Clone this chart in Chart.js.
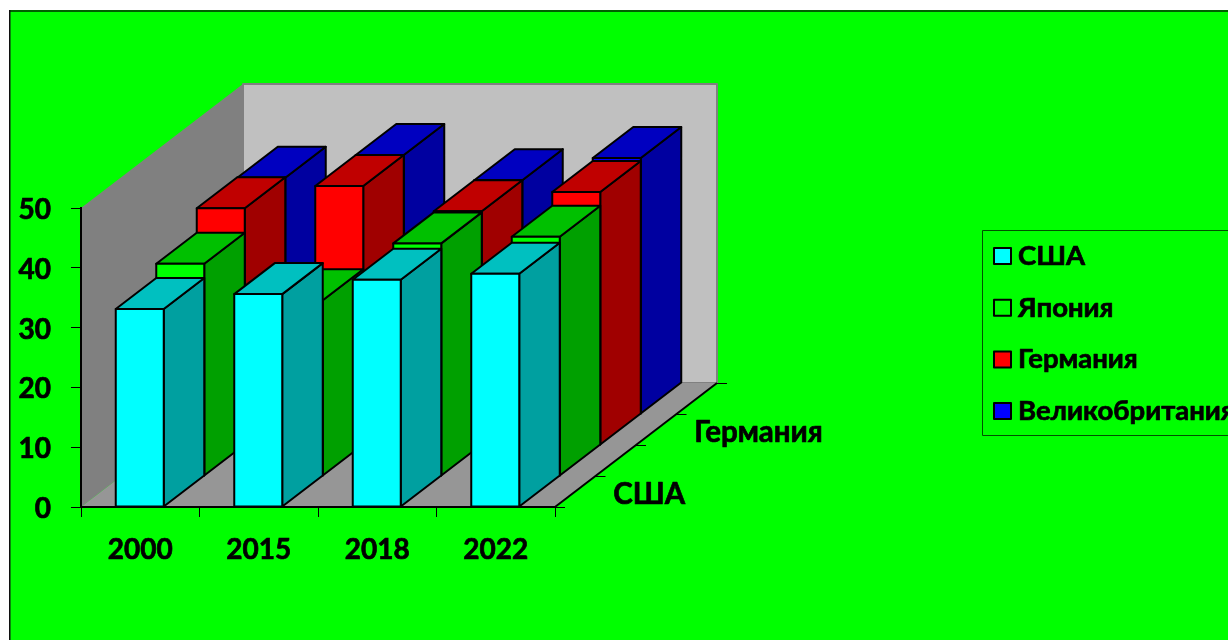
<!DOCTYPE html>
<html>
<head>
<meta charset="utf-8">
<style>
  html, body { margin: 0; padding: 0; background: #fff; overflow: hidden; }
  #wrap { width: 1228px; height: 640px; }
</style>
<script src="https://cdn.jsdelivr.net/npm/chart.js@4"></script>
</head>
<body>
<div id="wrap"><canvas id="chart"></canvas></div>
<script>
// Values
const years = ['2000', '2015', '2018', '2022'];
const seriesNames = ['США', 'Япония', 'Германия', 'Великобритания'];
const usa = [33.1, 35.6, 38, 39];
const japan = [35.5, 29.4, 38.9, 40];
const germany = [39.6, 43.3, 39.1, 42.3];
const britain = [39.5, 43.3, 39.1, 42.8];
const yTicks = [0, 10, 20, 30, 40, 50];

// Colours: front, top and side face of each series
const frontColors = ['#00ffff', '#00ff00', '#ff0000', '#0000ff'];
const topColors = ['#00c0c0', '#00c000', '#c00000', '#0000c0'];
const sideColors = ['#00a0a0', '#00a000', '#a00000', '#0000a0'];

const FONT = 'Lato, "Open Sans", sans-serif';
const fontSize = 28;
const depthFontSize = 29.5;
const legendFontSize = 27.5;
const textStroke = 0.7;

// Depth of one series slot in the fake 3D projection
const DX = 40.5;
const DY = -31;
const BAR_SHIFT = -0.5;

function poly(ctx, pts, fill, stroke, lw) {
  ctx.beginPath();
  pts.forEach((p, i) => i ? ctx.lineTo(p[0], p[1]) : ctx.moveTo(p[0], p[1]));
  ctx.closePath();
  if (fill) { ctx.fillStyle = fill; ctx.fill(); }
  if (stroke) { ctx.strokeStyle = stroke; ctx.lineWidth = lw; ctx.lineJoin = 'round'; ctx.stroke(); }
}

function boldText(ctx, text, x, y) {
  ctx.fillStyle = '#000';
  ctx.strokeStyle = '#000';
  ctx.lineWidth = textStroke;
  ctx.fillText(text, x, y);
  ctx.strokeText(text, x, y);
}

const scene = {
  id: 'scene',
  // value labels sit a little lower than Chart.js centres them
  afterLayout(chart) {
    chart.scales.y.getLabelItems().forEach(item => { item.options.translation[1] += 2; });
  },
  // green panel and the three walls go under the axes
  beforeDraw(chart) {
    const { ctx, chartArea: a } = chart;
    const depthX = DX * seriesNames.length;
    const depthY = DY * seriesNames.length;
    ctx.save();
    ctx.fillStyle = '#00ff00';
    ctx.fillRect(10, 11, chart.width - 10, chart.height - 11);
    ctx.fillStyle = '#006000';
    ctx.fillRect(9, 10, chart.width - 9, 2);
    ctx.fillStyle = '#101010';
    ctx.fillRect(9, 10, 1.5, chart.height - 10);

    // back wall
    poly(ctx, [[a.left + depthX, a.top + depthY], [a.right + depthX, a.top + depthY],
      [a.right + depthX, a.bottom + depthY], [a.left + depthX, a.bottom + depthY]], '#c0c0c0', '#808080', 2);
    // left wall
    poly(ctx, [[a.left, a.top], [a.left + depthX, a.top + depthY],
      [a.left + depthX, a.bottom + depthY], [a.left, a.bottom]], '#808080');
    // floor
    poly(ctx, [[a.left, a.bottom], [a.right, a.bottom],
      [a.right + depthX, a.bottom + depthY], [a.left + depthX, a.bottom + depthY]], '#969696');

    // depth axis line with its ticks
    ctx.strokeStyle = '#000';
    ctx.lineWidth = 2;
    ctx.beginPath();
    ctx.moveTo(a.right, a.bottom);
    ctx.lineTo(a.right + depthX, a.bottom + depthY);
    ctx.stroke();
    ctx.lineWidth = 1;
    ctx.beginPath();
    for (let i = 0; i <= seriesNames.length; i++) {
      const tx = a.right + DX * i;
      const ty = Math.round(a.bottom + DY * i) + 0.5;
      ctx.moveTo(tx, ty);
      ctx.lineTo(tx + 10, ty);
    }
    ctx.stroke();

    // depth axis labels, every second one like the original
    ctx.font = 'bold ' + depthFontSize + 'px ' + FONT;
    ctx.textAlign = 'left';
    ctx.textBaseline = 'middle';
    for (let i = 0; i < seriesNames.length; i += 2) {
      boldText(ctx, seriesNames[i], a.right + DX * (i + 0.5) + 38, a.bottom + DY * (i + 0.5) + 3);
    }
    ctx.restore();
  },
  // replace the flat bar with a box pushed back by the series depth
  beforeDatasetDraw(chart, args) {
    const ctx = chart.ctx;
    const i = args.index;
    args.meta.data.forEach(bar => {
      const l = bar.x - bar.width / 2 + DX * i + BAR_SHIFT;
      const r = bar.x + bar.width / 2 + DX * i + BAR_SHIFT;
      const t = bar.y + DY * i;
      const b = bar.base + DY * i;
      poly(ctx, [[r, t], [r + DX, t + DY], [r + DX, b + DY], [r, b]], sideColors[i], '#000', 2);
      poly(ctx, [[l, t], [l + DX, t + DY], [r + DX, t + DY], [r, t]], topColors[i], '#000', 2);
      poly(ctx, [[l, t], [r, t], [r, b], [l, b]], frontColors[i], '#000', 2);
    });
    return false;
  },
  // legend box at the right, runs off the edge like the original
  afterDraw(chart) {
    const ctx = chart.ctx;
    ctx.save();
    ctx.strokeStyle = '#005000';
    ctx.lineWidth = 1;
    ctx.beginPath();
    ctx.moveTo(chart.width, 230.5);
    ctx.lineTo(982.5, 230.5);
    ctx.lineTo(982.5, 435.5);
    ctx.lineTo(chart.width, 435.5);
    ctx.stroke();
    ctx.font = 'bold ' + legendFontSize + 'px ' + FONT;
    ctx.textAlign = 'left';
    ctx.textBaseline = 'middle';
    seriesNames.forEach((name, i) => {
      const y = 256 + i * 51.7;
      ctx.fillStyle = frontColors[i];
      ctx.strokeStyle = '#000';
      ctx.lineWidth = 2;
      ctx.fillRect(994, y - 8, 17, 16);
      ctx.strokeRect(994, y - 8, 17, 16);
      boldText(ctx, name, 1018, y);
    });
    ctx.restore();
  }
};

const chart = new Chart(document.getElementById('chart'), {
  type: 'bar',
  data: {
    labels: years,
    datasets: [
      { label: seriesNames[0], data: usa },
      { label: seriesNames[1], data: japan },
      { label: seriesNames[2], data: germany },
      { label: seriesNames[3], data: britain }
    ]
  },
  plugins: [scene],
  options: {
    responsive: true,
    maintainAspectRatio: false,
    animation: false,
    layout: { padding: { top: 208, right: 673, left: 0, bottom: 0 } },
    datasets: { bar: { grouped: false, barPercentage: 1, categoryPercentage: 0.405 } },
    plugins: { legend: { display: false }, tooltip: { enabled: false } },
    scales: {
      x: {
        afterFit: s => { s.height = 133; },
        grid: { drawOnChartArea: false, color: '#000', tickLength: 10, tickWidth: 1 },
        border: { color: '#000', width: 2 },
        ticks: {
          color: '#000', padding: 16, maxRotation: 0,
          textStrokeColor: '#000', textStrokeWidth: textStroke,
          font: { family: FONT, size: fontSize, weight: 'bold' }
        }
      },
      y: {
        min: 0,
        max: 50,
        afterFit: s => { s.width = 81; },
        afterBuildTicks: s => { s.ticks = yTicks.map(v => ({ value: v })); },
        grid: { drawOnChartArea: false, color: '#000', tickLength: 10, tickWidth: 1 },
        border: { color: '#000', width: 2 },
        ticks: {
          color: '#000', padding: 20,
          textStrokeColor: '#000', textStrokeWidth: textStroke,
          font: { family: FONT, size: fontSize, weight: 'bold' }
        }
      }
    }
  }
});
</script>
</body>
</html>
